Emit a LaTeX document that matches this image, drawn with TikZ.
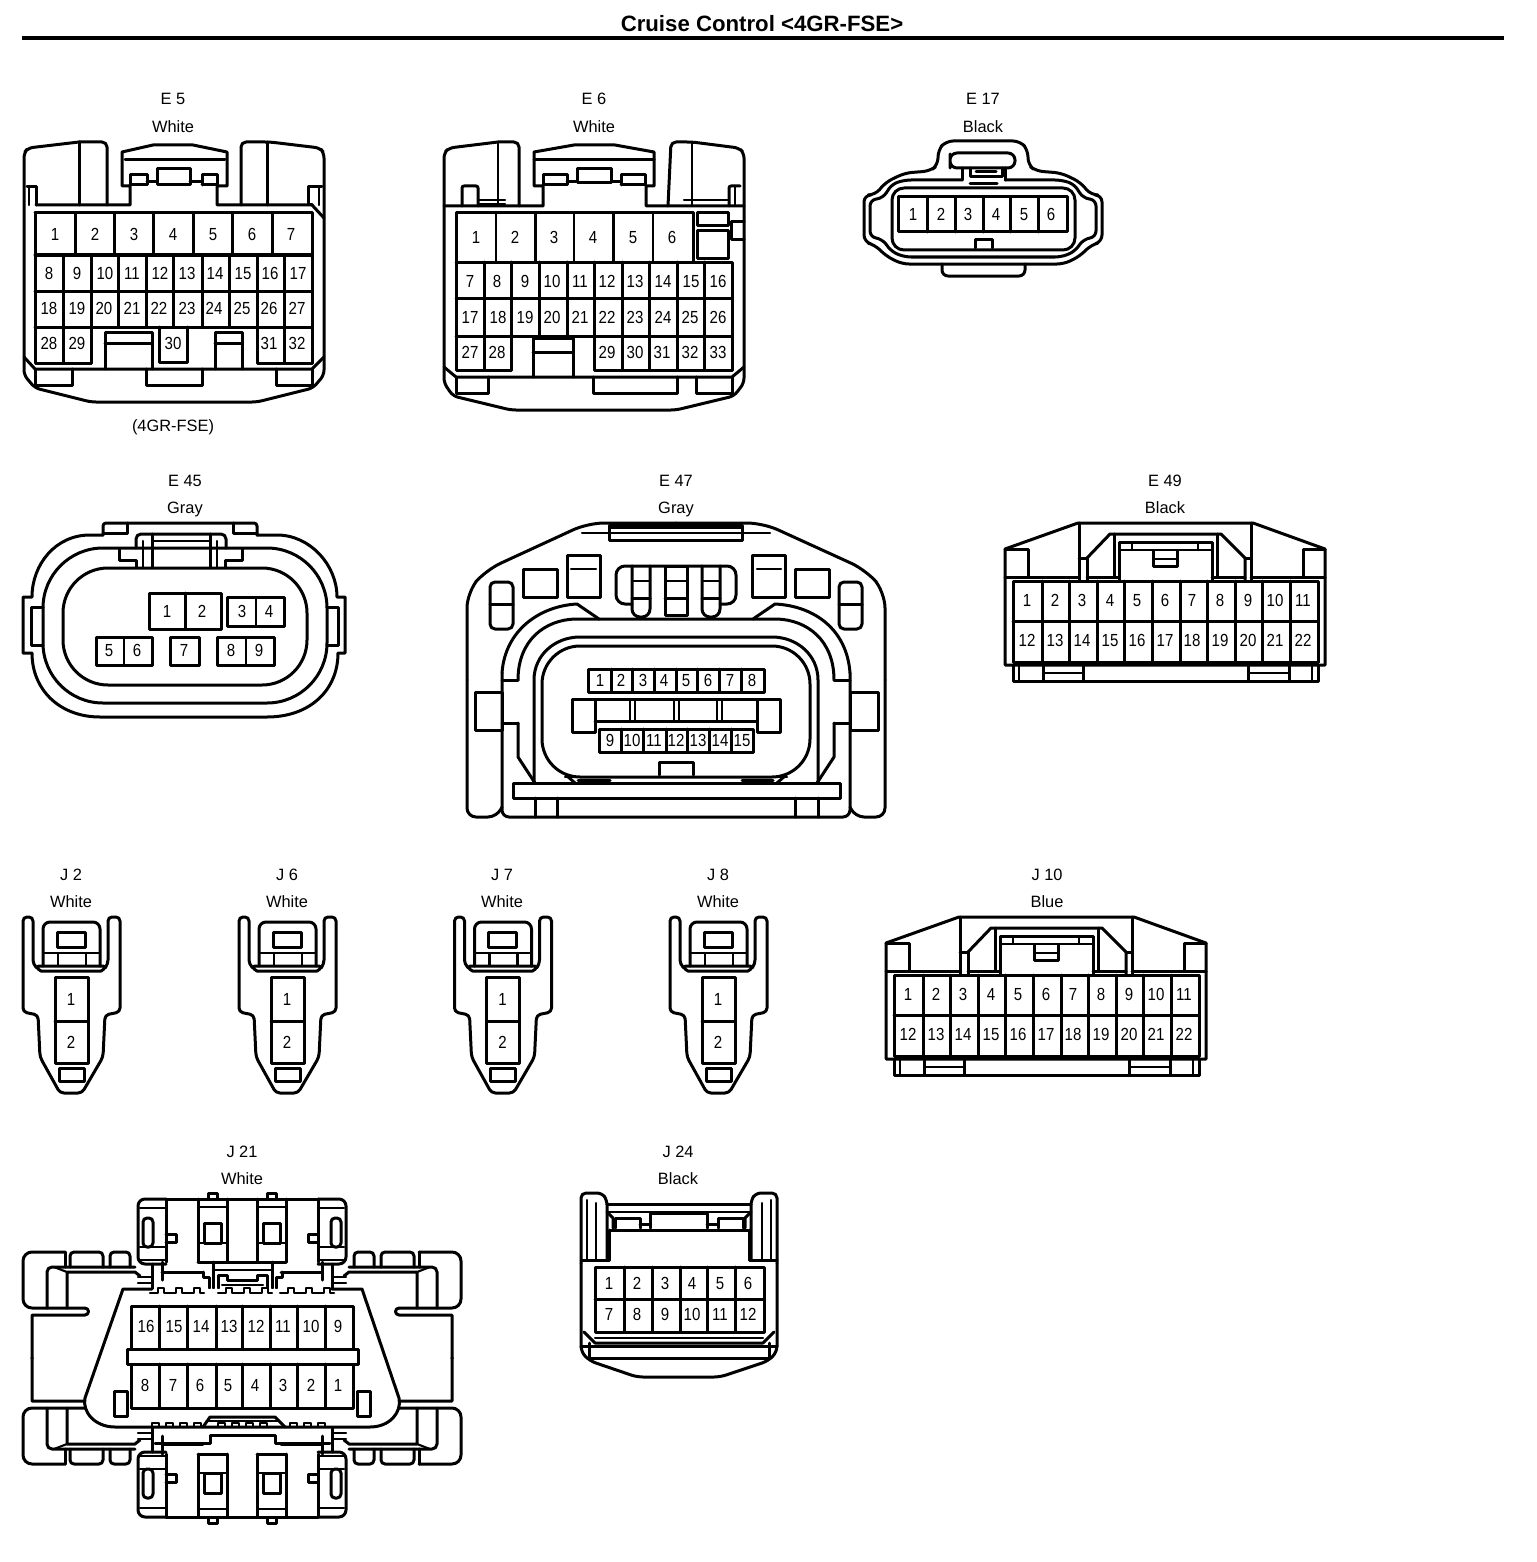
\documentclass[tikz,border=0pt]{standalone}
\usepackage{fontspec}
\setmainfont{Liberation Sans}
\newfontfamily\pinfont[FakeStretch=0.86]{Liberation Sans}
\newfontfamily\lblfont{Liberation Sans}
\newcounter{tn}
\tikzset{
  c/.style={draw=black,line width=3pt,line join=round,line cap=round},
  th/.style={draw=black,line width=2.1pt,line join=round,line cap=round},
  lbl/.style={anchor=base,inner sep=0pt,font=\lblfont\fontsize{16.4}{17}\selectfont},
  pinl/.style={anchor=base,inner sep=0pt,yshift=-6.2pt,font=\pinfont\fontsize{17.5}{18}\selectfont},
}
% free text label
\newcommand{\tl}[3]{\stepcounter{tn}\node[lbl] (t\arabic{tn}) at (#1,#2) {#3};}
% a row of pin numbers at height #1: list of x/number
\newcommand{\pr}[2]{\foreach \px/\pn in {#2}{\stepcounter{tn}\node[pinl] (t\arabic{tn}) at (\px,#1) {\pn};}}
% verticals at listed x from #1 to #2
\newcommand{\vl}[3]{\foreach \vx in {#3}{\draw[c] (\vx,#1) -- (\vx,#2);}}
% 22-way connector (E49 coordinates)
\newcommand{\conntt}{
 \draw[c] (1005,665) -- (1005,549) -- (1078,523) -- (1253,523) -- (1325,549) -- (1325,665) -- cycle;
 \draw[c] (1013,581) rectangle (1318,662);
 \draw[c] (1013,621) -- (1318,621);
 \vl{581}{662}{1042,1069,1097,1124,1152,1180,1207,1235,1262,1290}
 \draw[c] (1005,549) -- (1028,549) -- (1028,577) -- (1005,577);
 \draw[c] (1325,549) -- (1303,549) -- (1303,577) -- (1325,577);
 \draw[c] (1028,577) -- (1079,577); \draw[c] (1251,577) -- (1303,577);
 \draw[c] (1079,523) -- (1079,581); \draw[c] (1251,523) -- (1251,581);
 \draw[c] (1079,558) -- (1087,558) -- (1087,581);
 \draw[c] (1087,558) -- (1110,534) -- (1221,534) -- (1245,558) -- (1245,581);
 \draw[c] (1245,558) -- (1251,558);
 \draw[c] (1114,534) -- (1114,577); \draw[c] (1217,534) -- (1217,577);
 \draw[c] (1087,577) -- (1119,577); \draw[c] (1212,577) -- (1245,577);
 \draw[c] (1119,581) -- (1119,542) -- (1212,542) -- (1212,581);
 \draw[th] (1119,550) -- (1212,550); \draw[th] (1132,542) -- (1132,550); \draw[th] (1198,542) -- (1198,550);
 \draw[c] (1153,551) -- (1153,566) -- (1177,566) -- (1177,551);
 \draw[th] (1153,559) -- (1177,559);
 \draw[c] (1013,665) -- (1013,681) -- (1318,681) -- (1318,665);
 \draw[th] (1019,665) -- (1019,681); \draw[th] (1312,665) -- (1312,681);
 \draw[c] (1043,665) -- (1043,681); \draw[c] (1083,665) -- (1083,681); \draw[th] (1043,673) -- (1083,673);
 \draw[c] (1248,665) -- (1248,681); \draw[c] (1289,665) -- (1289,681); \draw[th] (1248,673) -- (1289,673);
 \pr{600}{1027/1,1055/2,1082/3,1110/4,1137/5,1165/6,1192/7,1220/8,1248/9,1275/10,1303/11}
 \pr{640}{1027/12,1055/13,1082/14,1110/15,1137/16,1165/17,1192/18,1220/19,1248/20,1275/21,1303/22}
}
% two-way connector (J2 coordinates)
\newcommand{\conntwo}{
 \draw[c,rounded corners=4pt] (37,968) -- (33,964) -- (33,917) -- (23,917) -- (23,1012) -- (38,1015) -- (40,1057) -- (60,1093) -- (82,1093) -- (103,1057) -- (105,1015) -- (120,1012) -- (120,917) -- (108,917) -- (108,964) -- (105,968);
 \draw[c,rounded corners=2pt] (37,966) -- (105,966) -- (103,971) -- (39,971) -- cycle;
 \draw[c,rounded corners=7pt] (43,966) -- (43,922) -- (100,922) -- (100,966);
 \draw[th] (43,953) -- (100,953); \draw[th] (58,953) -- (58,965); \draw[th] (86,953) -- (86,965);
 \draw[c] (57,932) rectangle (85,947);
 \draw[c] (55,977) rectangle (88,1063); \draw[c] (55,1021) -- (88,1021);
 \draw[c] (59,1068) rectangle (84,1081);
 \pr{999}{71/1} \pr{1042}{71/2}
}
% one quarter of J21
\newcommand{\jq}{
 \draw[c,rounded corners=9pt] (65,1252) -- (23,1252) -- (23,1308) -- (85,1308);
 \draw[c] (85,1308) arc[start angle=90,end angle=-90,radius=3.5pt] -- (32,1315) -- (32,1358.5);
 \draw[c,rounded corners=5pt] (135,1267) -- (47,1267) -- (47,1308);
 \draw[c] (65,1252) -- (65,1267);
 \draw[c] (67,1308) -- (67,1272) -- (135,1272) -- (140,1276);
 \draw[th] (54,1267) -- (67,1272);
 \draw[c,rounded corners=4pt] (70,1267) -- (70,1252) -- (103,1252) -- (103,1267);
 \draw[c,rounded corners=4pt] (110,1267) -- (110,1252) -- (130,1252) -- (130,1267);
 \draw[c,rounded corners=7pt] (166,1199) -- (138,1199) -- (138,1264) -- (166,1264);
 \draw[c] (166,1199) -- (242,1199);
 \draw[c] (166,1199) -- (166,1262);
 \draw[th] (140,1208) -- (166,1208); \draw[th] (140,1247) -- (166,1247); \draw[th] (140,1260) -- (166,1260);
 \draw[c,rounded corners=4pt] (143,1218) rectangle (153,1247);
 \draw[c] (166,1234) -- (176,1234) -- (176,1242) -- (166,1242);
 \draw[c] (198,1199) -- (198,1262); \draw[c] (227,1199) -- (227,1262);
 \draw[th] (198,1207) -- (227,1207); \draw[c] (198,1262) -- (227,1262);
 \draw[c] (204,1223) rectangle (221,1243); \draw[th] (198,1243) -- (227,1243);
 \draw[c] (208,1198) -- (208,1193) -- (217,1193) -- (217,1198);
 \draw[th] (138,1277) -- (152,1277); \draw[th] (138,1283) -- (152,1283); \draw[th] (138,1289) -- (152,1289);
 \draw[c] (152,1264) -- (152,1290); \draw[c] (162,1262) -- (162,1280);
 \draw[c] (162,1272) -- (203,1272);
}
\begin{document}
\begin{tikzpicture}[x=1pt,y=-1pt]
\useasboundingbox (0,0) rectangle (1536,1562);
\fill[white] (0,0) rectangle (1536,1562);
\stepcounter{tn}\node[anchor=base,inner sep=0pt,font=\bfseries\fontsize{22.2}{23}\selectfont] (title) at (762,31.5) {Cruise Control <4GR-FSE>};
\draw[black,line width=4pt] (22,38.5) -- (1504,38.5);

% ===== labels =====
\tl{173}{105}{E 5}\tl{173}{133}{White}\tl{173}{431}{(4GR-FSE)}
\tl{594}{105}{E 6}\tl{594}{133}{White}
\tl{983}{105}{E 17}\tl{983}{133}{Black}
\tl{185}{486}{E 45}\tl{185}{513}{Gray}
\tl{676}{486}{E 47}\tl{676}{513}{Gray}
\tl{1165}{486}{E 49}\tl{1165}{513}{Black}
\tl{71}{880}{J 2}\tl{71}{907}{White}
\tl{287}{880}{J 6}\tl{287}{907}{White}
\tl{502}{880}{J 7}\tl{502}{907}{White}
\tl{718}{880}{J 8}\tl{718}{907}{White}
\tl{1047}{880}{J 10}\tl{1047}{907}{Blue}
\tl{242}{1157}{J 21}\tl{242}{1184}{White}
\tl{678}{1157}{J 24}\tl{678}{1184}{Black}

% ===== E5 =====
\draw[c,rounded corners=5pt] (79,142) -- (28,148) -- (24,153) -- (24,375) -- (35,388) -- (91,402) -- (257,402) -- (313,388) -- (324,375) -- (324,153) -- (320,148) -- (270,142) -- (241,142) -- (241,205);
\draw[c,rounded corners=5pt] (79,142) -- (107,142) -- (107,205);
\draw[c] (79,142) -- (79,205); \draw[c] (267,142) -- (267,205);
\draw[c] (36,205) -- (130,205) -- (130,186) -- (122,186) -- (122,152) -- (153,145) -- (193,145) -- (227,152) -- (227,186) -- (217,186) -- (217,205) -- (312,205);
\draw[c] (36,205) -- (36,187) -- (27,187); \draw[c] (312,205) -- (308,205) -- (308,187) -- (322,187);
\draw[th] (319,187) -- (319,205); \draw[th] (29,187) -- (29,205);
\draw[c] (312,205) -- (324,218);
\draw[c] (125,160) -- (225,160);
\draw[c] (130,185) -- (130,175) -- (147,175) -- (147,185) -- (130,185);
\draw[c] (202,185) -- (202,175) -- (217,175) -- (217,185) -- (202,185);
\draw[c] (157,185) -- (157,169) -- (190,169) -- (190,185) -- cycle;
\draw[c] (147,182) -- (157,182); \draw[c] (190,182) -- (202,182);
\draw[c] (35,213) -- (312,213) -- (312,363) -- (257,363) -- (257,328);
\draw[c] (35,213) -- (35,363) -- (91,363) -- (91,328);
\draw[c] (35,255) -- (312,255); \draw[c] (35,291.5) -- (312,291.5); \draw[c] (35,327) -- (312,327);
\vl{213}{255}{75,114,153,193,232,272}
\vl{255}{327}{63,91,118,146,173,202,229,257,284}
\vl{327}{363}{63,284}
\draw[c] (159,327) -- (159,362) -- (187,362) -- (187,327);
\draw[c] (105,369) -- (105,332) -- (152,332) -- (152,369); \draw[c] (105,343) -- (152,343);
\draw[c] (215,369) -- (215,332) -- (242,332) -- (242,369); \draw[c] (215,343) -- (242,343);
\draw[c] (24,357) -- (35,369) -- (312,369) -- (324,357);
\draw[c] (35,369) -- (35,385) -- (72,385) -- (72,369);
\draw[c] (146,369) -- (146,385) -- (202,385) -- (202,369);
\draw[c] (276,369) -- (276,385) -- (312,385) -- (312,369);
\pr{234}{55/1,95/2,134/3,173/4,213/5,252/6,291/7}
\pr{273}{49/8,77/9,105/10,132/11,160/12,187/13,215/14,243/15,270/16,298/17}
\pr{308}{49/18,77/19,104/20,132/21,159/22,187/23,214/24,242/25,269/26,297/27}
\pr{343}{49/28,77/29,173/30,269/31,297/32}

% ===== E6 =====
\draw[c,rounded corners=5pt] (498,142) -- (449,148) -- (444,153) -- (444,383) -- (453,396) -- (511,410) -- (676,410) -- (734,396) -- (744,383) -- (744,153) -- (739,148) -- (692,142) -- (671,142) -- (668,206);
\draw[c,rounded corners=5pt] (498,142) -- (519,142) -- (519,206);
\draw[th] (498,142) -- (498,206); \draw[th] (692,142) -- (692,206);
\draw[c] (444,206) -- (543,206) -- (543,186) -- (534,186) -- (534,152) -- (574,145) -- (615,145) -- (654,152) -- (654,186) -- (646,186) -- (646,206) -- (744,206);
\draw[c] (534,160) -- (654,160);
\draw[c] (543,185) -- (543,175) -- (567,175) -- (567,185) -- (543,185);
\draw[c] (621,185) -- (621,175) -- (645,175) -- (645,185) -- (621,185);
\draw[c] (577,183) -- (577,169) -- (611,169) -- (611,183) -- cycle;
\draw[c] (567,182) -- (577,182); \draw[c] (611,182) -- (621,182);
\draw[c,rounded corners=2pt] (462,206) -- (462,186) -- (478,186) -- (478,206);
\draw[th] (478,200) -- (505,200); \draw[th] (478,204) -- (505,204);
\draw[c,rounded corners=2pt] (729,206) -- (729,186) -- (740,186);
\draw[th] (684,200) -- (729,200); \draw[th] (735,186) -- (735,206);
\draw[c] (456,262) -- (456,213) -- (693,213) -- (693,262);
\vl{213}{262}{535,613}
\draw[th] (496,213) -- (496,262); \draw[th] (574,213) -- (574,262); \draw[th] (653,213) -- (653,262);
\draw[c] (697,213) rectangle (728,226); \draw[c] (697,231) rectangle (728,258);
\draw[c] (744,222) -- (731,222) -- (731,240) -- (744,240);
\draw[c] (456,262) -- (732,262) -- (732,370) -- (594,370) -- (594,336);
\draw[c] (456,262) -- (456,370) -- (511,370) -- (511,336);
\draw[c] (456,298.5) -- (732,298.5); \draw[c] (456,336) -- (732,336);
\vl{262}{336}{484,511,539,567,594,622,649,677,704}
\vl{336}{370}{484,622,649,677,704}
\draw[c] (533,377) -- (533,338) -- (573,338) -- (573,377); \draw[c] (533,352) -- (573,352);
\draw[c] (444,367) -- (456,377) -- (732,377) -- (744,367);
\draw[c] (456,377) -- (456,393) -- (488,393) -- (488,377);
\draw[c] (593,377) -- (593,393) -- (677,393) -- (677,377);
\draw[c] (696,377) -- (696,393) -- (732,393) -- (732,377);
\pr{237}{476/1,515/2,554/3,593/4,633/5,672/6}
\pr{281}{470/7,497/8,525/9,552/10,580/11,607/12,635/13,663/14,691/15,718/16}
\pr{317}{470/17,498/18,525/19,552/20,580/21,607/22,635/23,663/24,690/25,718/26}
\pr{352}{470/27,497/28,607/29,635/30,662/31,690/32,718/33}

% ===== E17 =====
\draw[c,rounded corners=7pt] (983,141) -- (946,141) -- (938,150) -- (938,165) -- (930,171) -- (905,173) -- (886,182) -- (875,195) -- (864,195) -- (864,242) -- (875,245) -- (886,256) -- (902,264) -- (1064,264) -- (1080,256) -- (1091,245) -- (1102,242) -- (1102,195) -- (1091,195) -- (1080,182) -- (1061,173) -- (1036,171) -- (1028,165) -- (1028,150) -- (1020,141) -- cycle;
\draw[c,rounded corners=6pt] (962,180) -- (905,180) -- (892,184) -- (883,198) -- (870,200) -- (870,237) -- (882,239) -- (892,252) -- (905,257) -- (1061,257) -- (1074,252) -- (1084,239) -- (1096,237) -- (1096,200) -- (1083,198) -- (1074,184) -- (1061,180) -- (1005,180);
\draw[c,rounded corners=12pt] (892,188) rectangle (1075,250);
\draw[c] (898,197) rectangle (1067,232);
\vl{197}{232}{927,955,983,1010,1038}
\draw[c] (975,248) -- (975,240) -- (992,240) -- (992,248);
\draw[c,rounded corners=7pt] (950,161) -- (950,153) -- (1015,153) -- (1015,168) -- (950,168) -- cycle;
\draw[c] (962,168) -- (962,180); \draw[c] (1005,168) -- (1005,180);
\draw[c] (970,168) -- (970,177) -- (1002,177) -- (1002,168);
\draw[c] (976,172) -- (996,172);
\draw[c] (970,184) -- (997,184);
\draw[c,rounded corners=6pt] (942,264) -- (942,276) -- (1025,276) -- (1025,264);
\pr{214}{913/1,941/2,968/3,996/4,1024/5,1051/6}

% ===== E45 =====
\draw[c] (103,535) -- (90,535) .. controls (55,535) and (32,565) .. (32,597) -- (23,597) -- (23,653) -- (32,653) .. controls (32,690) and (60,717) .. (100,717) -- (267,717) .. controls (310,717) and (338,690) .. (338,653) -- (345,653) -- (345,597) -- (337,597) .. controls (337,565) and (310,535) .. (277,535) -- (257,535);
\draw[c,rounded corners=3pt] (103,535) -- (103,523) -- (257,523) -- (257,535);
\draw[c] (103,533) -- (127,533) -- (127,523); \draw[c] (257,533) -- (233,533) -- (233,523);
\draw[c,rounded corners=60pt] (43,548) rectangle (327,703);
\draw[c,rounded corners=45pt] (63,568) rectangle (307,685);
\draw[c] (43,607) -- (31,607) -- (31,645) -- (43,645);
\draw[c] (327,607) -- (338,607) -- (338,645) -- (327,645);
\draw[c,rounded corners=5pt] (136,548) -- (136,534) -- (226,534) -- (226,548);
\draw[c] (152,534) -- (152,567); \draw[c] (210,534) -- (210,567);
\draw[th] (143,541) -- (143,567); \draw[th] (217,541) -- (217,567);
\draw[th] (152,541) -- (210,541);
\draw[c] (119,549) -- (119,560) -- (136,560) -- (136,567);
\draw[c] (242,549) -- (242,560) -- (225,560) -- (225,567);
\draw[c] (149,593) rectangle (221,629); \draw[c] (185,593) -- (185,629);
\draw[c] (227,597) rectangle (284,626); \draw[th] (256,597) -- (256,626);
\draw[c] (96,637) rectangle (152,665); \draw[th] (124,637) -- (124,665);
\draw[c] (170,637) rectangle (199,665);
\draw[c] (217,637) rectangle (274,665); \draw[th] (246,637) -- (246,665);
\pr{611}{167/1,202/2,242/3,269/4} \pr{650}{109/5,137/6,184/7,231/8,259/9}

% ===== E47 =====
\draw[c,rounded corners=16pt] (467,680) -- (467,592) -- (486,570) -- (588,523) -- (676,523);
\draw[c,rounded corners=16pt] (885,680) -- (885,592) -- (866,570) -- (763,523) -- (676,523);
\draw[c,rounded corners=9pt] (467,680) -- (467,817) -- (497,817) -- (502,807);
\draw[c,rounded corners=9pt] (885,680) -- (885,817) -- (855,817) -- (850,807);
\draw[c,rounded corners=7pt] (502,673) -- (502,817) -- (850,817) -- (850,673);
\draw[c] (502,673) .. controls (505,630) and (540,606) .. (577,604) -- (599,619) -- (753,619) -- (775,604) .. controls (815,606) and (847,630) .. (850,673);
\draw[c] (518,680) .. controls (518,640) and (545,620) .. (575,619) -- (599,619);
\draw[c] (834,680) .. controls (834,640) and (807,620) .. (777,619) -- (753,619);
\draw[c] (518,723) -- (518,757) -- (535,783);
\draw[c] (834,723) -- (834,757) -- (817,783);
\draw[c] (513,783) rectangle (840,798);
\draw[c] (534,783) -- (534,680) .. controls (534,655) and (555,637) .. (580,637) -- (772,637) .. controls (797,637) and (818,655) .. (818,680) -- (818,783);
\draw[c,rounded corners=38pt] (542,777) rectangle (810,646);
\draw[c] (475,692) rectangle (502,730); \draw[c] (850,692) rectangle (878,730);
\draw[c] (502,680) -- (518,680); \draw[c] (502,723) -- (518,723);
\draw[c] (834,680) -- (850,680); \draw[c] (834,723) -- (850,723);
\draw[c] (535,798) -- (535,817); \draw[c] (557,798) -- (557,817); \draw[c] (795,798) -- (795,817); \draw[c] (818,798) -- (818,817);
\draw[c] (609,525) rectangle (742,540);
\draw[th] (582,533) -- (770,533); \draw[th] (609,528) -- (742,528);
\draw[c] (523,569) rectangle (557,597);
\draw[c] (567,555) rectangle (600,597); \draw[th] (571,569) -- (596,569);
\draw[c] (752,555) rectangle (785,597); \draw[th] (757,569) -- (781,569);
\draw[c] (795,569) rectangle (829,597);
\draw[c,rounded corners=5pt] (490,582) rectangle (513,629); \draw[c] (490,604) -- (513,604);
\draw[c,rounded corners=5pt] (839,582) rectangle (862,629); \draw[c] (839,604) -- (862,604);
\draw[c,rounded corners=9pt] (632,604) -- (616,604) -- (616,566) -- (736,566) -- (736,604) -- (720,604);
\draw[c,rounded corners=8pt] (632,566) -- (632,617) -- (650,617) -- (650,566);
\draw[th] (632,581) -- (650,581); \draw[c] (632,598) -- (650,598);
\draw[c,rounded corners=8pt] (702,566) -- (702,617) -- (720,617) -- (720,566);
\draw[th] (702,581) -- (720,581); \draw[c] (702,598) -- (720,598);
\draw[c] (665,566) rectangle (687,615); \draw[th] (665,581) -- (687,581); \draw[c] (665,598) -- (687,598);
\draw[c] (588,669) rectangle (764,692);
\vl{669}{692}{611,632,654,676,697,719,741}
\draw[c] (599,729) rectangle (753,752);
\vl{729}{752}{621,643,666,687,709,731}
\draw[c] (572,699) rectangle (595,732); \draw[c] (757,699) rectangle (780,732);
\draw[c] (595,699) -- (757,699); \draw[c] (595,721) -- (757,721);
\foreach \dx in {630,635,674,679,717,722}{\draw[th] (\dx,699) -- (\dx,721);}
\draw[c] (659,775) -- (659,762) -- (693,762) -- (693,775);
\draw[c,rounded corners=2pt] (566,775) -- (575,783); \draw[c] (786,775) -- (777,783);
\draw[th] (565,777) -- (787,777);
\draw[c] (578,780) -- (610,780); \draw[c] (742,780) -- (773,780);
\pr{680.5}{600/1,621/2,643/3,664/4,686/5,708/6,730/7,752/8}
\pr{740}{610/9,632/10,654/11,676/12,698/13,720/14,742/15}

% ===== E49 and J10 =====
\conntt
\begin{scope}[shift={(-119,394)}]\conntt\end{scope}

% ===== J2 J6 J7 J8 =====
\conntwo
\begin{scope}[shift={(216,0)}]\conntwo\end{scope}
\begin{scope}[shift={(431.5,0)}]\conntwo\end{scope}
\begin{scope}[shift={(647,0)}]\conntwo\end{scope}

% ===== J21 =====
\jq
\begin{scope}[shift={(484,0)},xscale=-1]\jq\end{scope}
\begin{scope}[shift={(0,2716)},yscale=-1]\jq\end{scope}
\begin{scope}[shift={(484,2716)},xscale=-1,yscale=-1]\jq\end{scope}
\draw[c] (227,1262) -- (258,1262);
\draw[c] (213,1262) -- (213,1288); \draw[c] (272,1262) -- (272,1288); \draw[th] (213,1270) -- (272,1270);
\draw[c] (203,1272) -- (203,1277) -- (209,1277) -- (209,1288); \draw[c] (282,1272) -- (282,1277) -- (276,1277) -- (276,1288);
\draw[c] (218,1288) -- (218,1275) -- (227,1275) -- (227,1280) -- (257,1280) -- (257,1275) -- (267,1275) -- (267,1288);
\draw[th] (222,1285) -- (263,1285);
\draw[c] (155,1443) -- (210,1443) -- (210,1435) -- (275,1435) -- (275,1443) -- (330,1443);
\fill[white] (123,1289) -- (362,1289) -- (399,1398) .. controls (402,1412) and (390,1427) .. (370,1427) -- (115,1427) .. controls (95,1427) and (82,1412) .. (85,1398) -- cycle;
\draw[c] (152,1289) -- (123,1289) -- (85,1398) .. controls (82,1412) and (95,1427) .. (115,1427) -- (370,1427) .. controls (390,1427) and (402,1412) .. (399,1398) -- (362,1289) -- (332,1289);
\foreach \cx in {150,168,186,218,236,254,280,298,316}{\draw[th] (\cx,1293) -- (\cx+8,1293) -- (\cx+8,1288) -- (\cx+14,1288) -- (\cx+14,1293) -- (\cx+18,1293);}
\foreach \cx in {152,166,180,194,218,232,246,260,290,304,318}{\draw[th] (\cx,1427) -- (\cx,1423) -- (\cx+7,1423) -- (\cx+7,1427);}
\draw[c] (203,1427) -- (210,1417) -- (275,1417) -- (285,1427);
\draw[th] (207,1421) -- (278,1421);
\draw[c] (114,1391) rectangle (127,1416); \draw[c] (357,1391) rectangle (370,1416);
\draw[c] (131,1306) rectangle (353,1408);
\draw[c,fill=white] (127,1349) rectangle (358,1364);
\vl{1306}{1349}{159,187,216,242,270,297,325}
\vl{1364}{1408}{159,187,216,242,270,297,325}
\pr{1326}{146/16,174/15,201/14,229/13,256/12,283/11,311/10,338/9}
\pr{1385}{145/8,173/7,200/6,228/5,255/4,283/3,311/2,338/1}

% ===== J24 =====
\draw[c,rounded corners=5pt] (581,1263) -- (581,1193) -- (602,1193) -- (607,1200) -- (607,1260);
\draw[c,rounded corners=5pt] (777,1263) -- (777,1193) -- (756,1193) -- (751,1200) -- (751,1260);
\draw[th] (587,1200) -- (587,1260); \draw[th] (596,1203) -- (596,1260); \draw[th] (771,1200) -- (771,1260); \draw[th] (762,1203) -- (762,1260);
\draw[c] (607,1204) -- (751,1204);
\draw[c] (607,1212) -- (613,1218) -- (613,1228); \draw[c] (751,1212) -- (745,1218) -- (745,1228);
\draw[th] (607,1212) -- (751,1212);
\draw[c] (615,1228) -- (615,1218) -- (640,1218) -- (640,1228);
\draw[c] (718,1228) -- (718,1218) -- (743,1218) -- (743,1228);
\draw[c] (650,1228) -- (650,1213) -- (707,1213) -- (707,1228);
\draw[c] (640,1224) -- (650,1224); \draw[c] (707,1224) -- (718,1224);
\draw[c] (610,1230) -- (748,1230);
\draw[c] (609,1230) -- (609,1260) -- (581,1260); \draw[c] (749,1230) -- (749,1260) -- (777,1260);
\draw[c] (595,1267) rectangle (764,1332);
\draw[c] (595,1299) -- (764,1299);
\vl{1267}{1332}{624,652,680,707,735}
\draw[c,rounded corners=6pt] (581,1263) -- (581,1352) -- (590,1361) -- (637,1377) -- (720,1377) -- (768,1361) -- (777,1352) -- (777,1263);
\draw[c] (584,1332) -- (595,1343) -- (763,1343) -- (774,1332);
\draw[th] (595,1338) -- (763,1338);
\draw[c] (589,1343) -- (589,1358) -- (769,1358) -- (769,1343);
\draw[c] (581,1346) -- (777,1346);
\pr{1283}{609/1,637/2,665/3,692/4,720/5,748/6}
\pr{1314}{609/7,637/8,665/9,692/10,720/11,748/12}
\end{tikzpicture}
\end{document}
